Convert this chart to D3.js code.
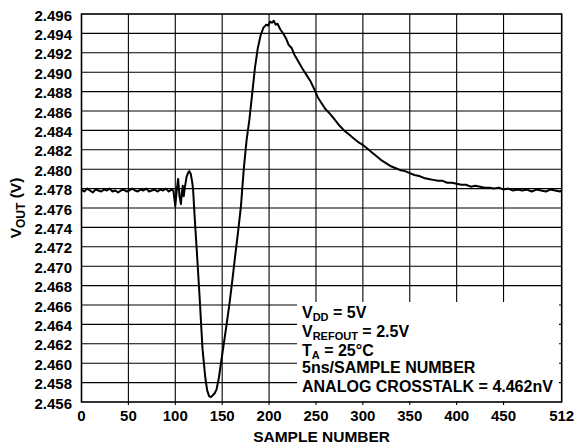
<!DOCTYPE html>
<html><head><meta charset="utf-8">
<script src="https://cdn.jsdelivr.net/npm/d3@7"></script>
<style>
html,body{margin:0;padding:0;background:#fff;}
text{font-family:"Liberation Sans",Arial,sans-serif;font-weight:bold;fill:#000;}
</style></head>
<body><svg id="c" width="575" height="445"></svg>
<script>
const sampleNumber = [0,3,6,9,12,15,18,21,24,27,30,33,36,39,42,45,48,51,54,57,60,63,66,69,72,75,78,81,84,87,90,93,96,98,
100,101.5,103,104.5,106,107,108,109,110,112,114,115,116.5,118,119,121,123,126,129,132,134,136,138,140,142,144,146.5,149,152,155,158,161,164,167,170,173,176,179,182,185,188,191,194,197,199,201,203,205,207,209,212,215,218,221,224,227,230,233,236,240,244,248,252,256,260,265,270,275,280,285,290,295,300,305,310,315,320,325,330,335,340,345,350,355,360,365,370,375,380,385,390,395,400,405,410,415,420,425,430,435,440,445,450,455,460,465,470,475,480,485,490,495,500,505,510,512];
const vout = [2.4779,2.4777,2.4780,2.4778,2.4776,2.4779,2.4778,2.4777,2.4779,2.4778,2.4780,2.4777,2.4778,2.4776,2.4778,2.4779,2.4777,2.4778,2.4780,2.4778,2.4777,2.4779,2.4778,2.4780,2.4777,2.4778,2.4779,2.4777,2.4779,2.4778,2.4780,2.4777,2.4779,2.4778,
2.4762,2.4778,2.4790,2.4772,2.4764,2.4776,2.4783,2.4772,2.4780,2.4792,2.4797,2.4798,2.4795,2.4787,2.4779,2.4745,2.4715,2.4667,2.4615,2.4585,2.4572,2.4566,2.4565,2.4567,2.4569,2.4573,2.4585,2.4602,2.4622,2.4642,2.4663,2.4687,2.4712,2.4736,2.4762,2.4800,2.4830,2.4851,2.4878,2.4905,2.4925,2.4938,2.4946,2.4949,2.4948,2.4952,2.4951,2.4953,2.4949,2.4950,2.4944,2.4940,2.4935,2.4928,2.4925,2.4918,2.4913,2.4908,2.4903,2.4897,2.4891,2.4883,2.4874,2.4868,2.4862,2.4857,2.4851,2.4845,2.4840,2.4836,2.4832,2.4828,2.4825,2.4821,2.4817,2.4813,2.4809,2.4806,2.4803,2.4801,2.4799,2.4798,2.4796,2.4794,2.4793,2.4791,2.4790,2.4789,2.4788,2.4788,2.4786,2.4786,2.4785,2.4784,2.4784,2.4782,2.4783,2.4782,2.4781,2.4781,2.4780,2.4781,2.4779,2.4780,2.4778,2.4779,2.4778,2.4779,2.4777,2.4779,2.4778,2.4777,2.4779,2.4778,2.4777,2.4778];
const xTicks = [0,50,100,150,200,250,300,350,400,450,512];
const yTicks = [2.456,2.458,2.460,2.462,2.464,2.466,2.468,2.470,2.472,2.474,2.476,2.478,2.480,2.482,2.484,2.486,2.488,2.490,2.492,2.494,2.496];
const notes = [["V","DD"," = 5V"],["V","REFOUT"," = 2.5V"],["T","A"," = 25°C"],["5ns/SAMPLE NUMBER","",""],["ANALOG CROSSTALK = 4.462nV","",""]];

const svg = d3.select("#c");
const L=81.5, R=561.7, T=14, B=402;
const x = d3.scaleLinear().domain([0,512]).range([L,R]);
const y = d3.scaleLinear().domain([2.456,2.496]).range([B,T]);

const g = svg.append("g");
// grid
g.selectAll(".gx").data(xTicks.slice(1,-1)).enter().append("line")
  .attr("x1",d=>x(d)).attr("x2",d=>x(d)).attr("y1",T).attr("y2",B+3)
  .attr("stroke","#000").attr("stroke-width",1.1);
g.selectAll(".gy").data(yTicks.slice(1,-1)).enter().append("line")
  .attr("x1",L).attr("x2",R).attr("y1",d=>y(d)).attr("y2",d=>y(d))
  .attr("stroke","#000").attr("stroke-width",1.1);

// curve
const line = d3.line().x((d,i)=>x(sampleNumber[i])).y(d=>y(d));
g.append("path").datum(vout).attr("d",line).attr("fill","none")
  .attr("stroke","#000").attr("stroke-width",2).attr("stroke-linejoin","round");

// annotation box
g.append("rect").attr("x",297).attr("y",302).attr("width",262).attr("height",B-302-0.5).attr("fill","#fff");

// border
g.append("rect").attr("x",L).attr("y",T).attr("width",R-L).attr("height",B-T)
  .attr("fill","none").attr("stroke","#000").attr("stroke-width",1.6);

// tick labels
svg.selectAll(".yl").data(yTicks).enter().append("text")
  .attr("x",72).attr("y",d=>y(d)+6.5).attr("text-anchor","end")
  .style("font-size","15px").text(d=>d3.format(".3f")(d));
svg.selectAll(".xl").data(xTicks).enter().append("text")
  .attr("x",d=>x(d)).attr("y",B+19).attr("text-anchor","middle")
  .style("font-size","15px").text(d=>d);

// axis titles
svg.append("text").attr("x",(L+R)/2).attr("y",442).attr("text-anchor","middle")
  .style("font-size","15.5px").text("SAMPLE NUMBER");
const yt = svg.append("text").attr("transform","translate(21,208) rotate(-90)")
  .attr("text-anchor","middle").style("font-size","15.5px");
yt.append("tspan").text("V");
yt.append("tspan").attr("dy",4).style("font-size","12px").text("OUT");
yt.append("tspan").attr("dy",-4).text(" (V)");

// annotations
const base = [317.7,336.5,355.5,373.3,392.3];
notes.forEach((n,i)=>{
  const t = svg.append("text").attr("x",302).attr("y",base[i]).style("font-size","16px");
  t.append("tspan").text(n[0]);
  if(n[1]){ t.append("tspan").attr("dy",3).style("font-size","11px").text(n[1]);
            t.append("tspan").attr("dy",-3).text(n[2]); }
});
</script></body></html>
